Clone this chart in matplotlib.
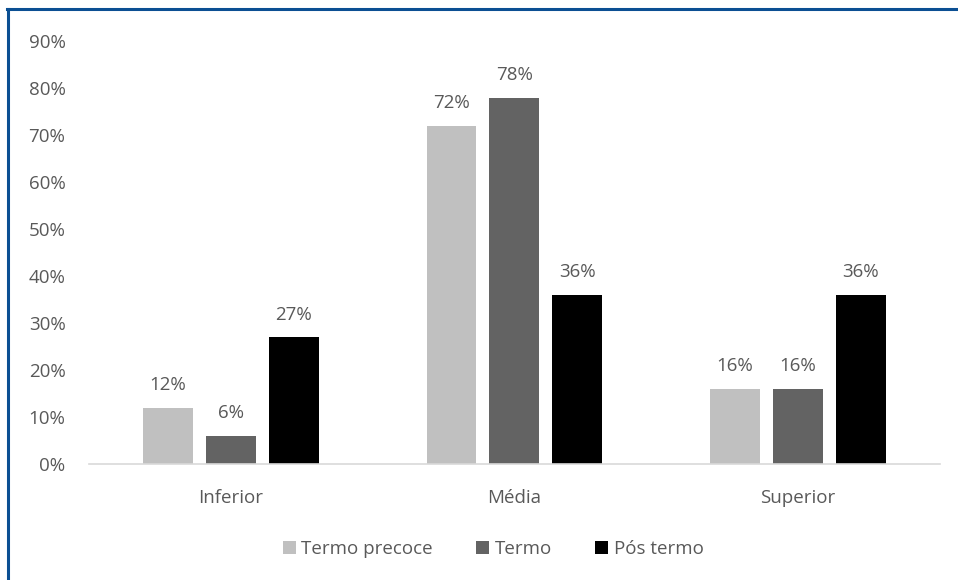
import matplotlib

matplotlib.use("Agg")
import matplotlib.pyplot as plt  # noqa: E402
import numpy as np  # noqa: E402
from matplotlib.ticker import PercentFormatter  # noqa: E402

categories = ["Inferior", "Média", "Superior"]
series_names = ["Termo precoce", "Termo", "Pós termo"]
termo_precoce = [12, 72, 16]
termo = [6, 78, 16]
pos_termo = [27, 36, 36]
yticks = [0, 10, 20, 30, 40, 50, 60, 70, 80, 90]

COLORS = ["#c0c0c0", "#636363", "#000000"]
TEXT = "#595959"
BORDER = "#0b4f93"
FS = 13.5

plt.rcParams["font.family"] = ["Open Sans", "DejaVu Sans"]

fig = plt.figure(figsize=(9.58, 5.8), dpi=100)
ax = fig.add_axes([0.093, 0.2, 0.888, 0.729])

x = np.arange(len(categories))
width = 0.176
step = 0.222
handles = []
for i, (vals, color, name) in enumerate(zip([termo_precoce, termo, pos_termo], COLORS, series_names)):
    bars = ax.bar(x + (i - 1) * step, vals, width, color=color, label=name)
    handles.append(bars)
    for b, v in zip(bars, vals):
        ax.text(b.get_x() + b.get_width() / 2, v + 2.9, f"{v}%", ha="center", va="bottom",
                fontsize=FS, color=TEXT)

ax.set_xlim(-0.5, 2.5)
ax.set_ylim(0, 90)
ax.set_yticks(yticks)
ax.yaxis.set_major_formatter(PercentFormatter(decimals=0))
ax.set_xticks(x)
ax.set_xticklabels(categories)
ax.tick_params(axis="y", length=0, pad=17, labelsize=FS, labelcolor=TEXT)
ax.tick_params(axis="x", length=0, pad=18, labelsize=FS, labelcolor=TEXT)
for s in ["top", "right", "left"]:
    ax.spines[s].set_visible(False)
ax.spines["bottom"].set_color("#d9d9d9")
ax.spines["bottom"].set_linewidth(1.2)

fig.legend(handles=handles, labels=series_names, loc="center", bbox_to_anchor=(0.515, 0.053),
           ncol=3, frameon=False, fontsize=FS, labelcolor=TEXT, handlelength=0.7,
           handleheight=0.7, handletextpad=0.3, columnspacing=2.3)

# blue frame on the left and top edges
fig.add_artist(plt.Line2D([0.0084, 0.0084], [0, 0.985], color=BORDER, lw=2.2,
                          transform=fig.transFigure))
fig.add_artist(plt.Line2D([0.0073, 1.0], [0.985, 0.985], color=BORDER, lw=2.2,
                          transform=fig.transFigure))

fig.savefig("out.png", facecolor="white")
